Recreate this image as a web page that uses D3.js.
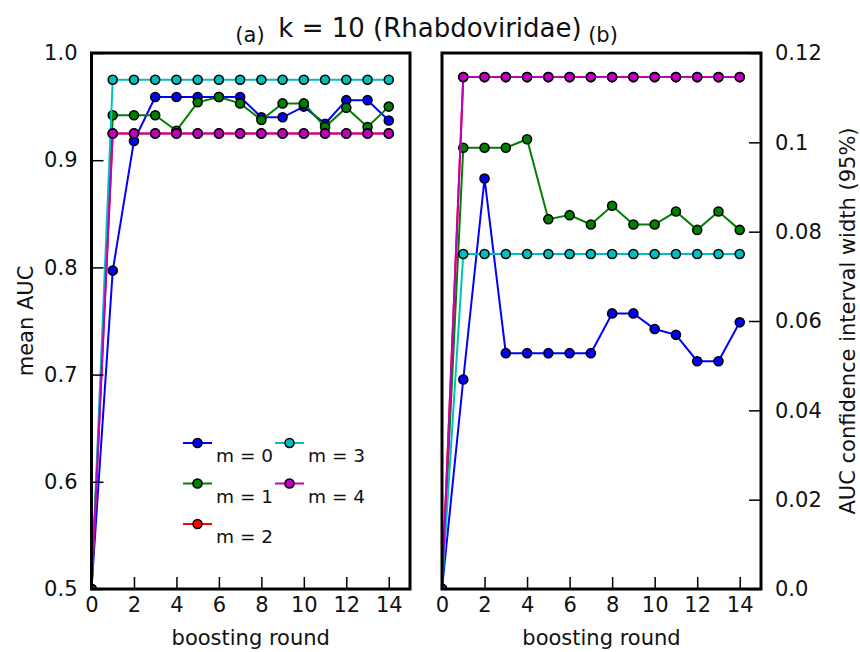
<!DOCTYPE html>
<html>
<head>
<meta charset="utf-8">
<script src="https://cdn.jsdelivr.net/npm/d3@7"></script>
<style>
  html, body { margin: 0; padding: 0; background: #fff; }
  svg { display: block; font-family: "DejaVu Sans", sans-serif; }
</style>
</head>
<body>
<svg id="chart" width="860" height="652"></svg>
<script>
// ---------------- data ----------------
const rounds = [0,1,2,3,4,5,6,7,8,9,10,11,12,13,14];
const seriesNames = ["m = 0", "m = 1", "m = 2", "m = 3", "m = 4"];
const seriesColors = ["#0000ff", "#008000", "#ff0000", "#00bfbf", "#bf00bf"];

// (a) mean AUC
const aucM0 = [0.5, 0.797, 0.918, 0.959, 0.959, 0.959, 0.959, 0.959, 0.940, 0.940, 0.950, 0.934, 0.956, 0.956, 0.937];
const aucM1 = [0.5, 0.942, 0.942, 0.942, 0.9275, 0.954, 0.959, 0.953, 0.9375, 0.953, 0.953, 0.931, 0.949, 0.931, 0.950];
const aucM2 = [0.5, 0.925, 0.925, 0.925, 0.925, 0.925, 0.925, 0.925, 0.925, 0.925, 0.925, 0.925, 0.925, 0.925, 0.925];
const aucM3 = [0.5, 0.975, 0.975, 0.975, 0.975, 0.975, 0.975, 0.975, 0.975, 0.975, 0.975, 0.975, 0.975, 0.975, 0.975];
const aucM4 = [0.5, 0.925, 0.925, 0.925, 0.925, 0.925, 0.925, 0.925, 0.925, 0.925, 0.925, 0.925, 0.925, 0.925, 0.925];

// (b) AUC confidence interval width (95%)
const ciM0 = [0.0, 0.0469, 0.0919, 0.0528, 0.0528, 0.0528, 0.0528, 0.0528, 0.0617, 0.0617, 0.0582, 0.0569, 0.0510, 0.0510, 0.0597];
const ciM1 = [0.0, 0.0988, 0.0988, 0.0988, 0.1007, 0.0828, 0.0837, 0.0816, 0.0858, 0.0816, 0.0816, 0.0845, 0.0804, 0.0845, 0.0804];
const ciM2 = [0.0, 0.1146, 0.1146, 0.1146, 0.1146, 0.1146, 0.1146, 0.1146, 0.1146, 0.1146, 0.1146, 0.1146, 0.1146, 0.1146, 0.1146];
const ciM3 = [0.0, 0.0750, 0.0750, 0.0750, 0.0750, 0.0750, 0.0750, 0.0750, 0.0750, 0.0750, 0.0750, 0.0750, 0.0750, 0.0750, 0.0750];
const ciM4 = [0.0, 0.1146, 0.1146, 0.1146, 0.1146, 0.1146, 0.1146, 0.1146, 0.1146, 0.1146, 0.1146, 0.1146, 0.1146, 0.1146, 0.1146];

const xTicks = [0, 2, 4, 6, 8, 10, 12, 14];
const aucTicks = [0.5, 0.6, 0.7, 0.8, 0.9, 1.0];
const aucTickLabels = ["0.5", "0.6", "0.7", "0.8", "0.9", "1.0"];
const ciTicks = [0.0, 0.02, 0.04, 0.06, 0.08, 0.10, 0.12];
const ciTickLabels = ["0.0", "0.02", "0.04", "0.06", "0.08", "0.1", "0.12"];

const titleText = "k = 10 (Rhabdoviridae)";
const panelLabels = ["(a)", "(b)"];
const xLabel = "boosting round";
const yLabelA = "mean AUC";
const yLabelB = "AUC confidence interval width (95%)";

// ---------------- drawing ----------------
const svg = d3.select("#chart");
const plotTop = 53, plotBottom = 589;

const panels = [
  { id: "a", x0: 91.5, x1: 410, domain: [0.5, 1.0], series: [aucM0, aucM1, aucM2, aucM3, aucM4],
    ticks: aucTicks, labels: aucTickLabels, side: "left" },
  { id: "b", x0: 442, x1: 761, domain: [0, 0.12], series: [ciM0, ciM1, ciM2, ciM3, ciM4],
    ticks: ciTicks, labels: ciTickLabels, side: "right" }
];

const defs = svg.append("defs");

panels.forEach(p => {
  const x = d3.scaleLinear().domain([0, 15]).range([p.x0, p.x1]);
  const y = d3.scaleLinear().domain(p.domain).range([plotBottom, plotTop]);

  defs.append("clipPath").attr("id", "clip-" + p.id)
    .append("rect").attr("x", p.x0).attr("y", plotTop).attr("width", p.x1 - p.x0).attr("height", plotBottom - plotTop);

  const g = svg.append("g").attr("clip-path", "url(#clip-" + p.id + ")");
  const line = d3.line().x((d, i) => x(rounds[i])).y(d => y(d));

  p.series.forEach((vals, si) => {
    const sg = g.append("g");
    sg.append("path").datum(vals)
      .attr("d", line)
      .attr("fill", "none")
      .attr("stroke", seriesColors[si])
      .attr("stroke-width", 2);
    sg.selectAll("circle").data(vals).join("circle")
      .attr("cx", (d, i) => x(rounds[i]))
      .attr("cy", d => y(d))
      .attr("r", 4.5)
      .attr("fill", seriesColors[si])
      .attr("stroke", "#000")
      .attr("stroke-width", 1.6);
  });

  // x axis ticks (inward) and labels
  const xAxis = d3.axisBottom(x).tickValues(xTicks).tickSizeInner(-12).tickSizeOuter(0)
    .tickFormat(d3.format("d"));
  const gx = svg.append("g").attr("transform", `translate(0,${plotBottom})`).call(xAxis);
  gx.select(".domain").remove();
  gx.selectAll(".tick line").attr("stroke", "#000").attr("stroke-width", 1.5);
  gx.selectAll(".tick text").attr("font-size", 21).attr("fill", "#111")
    .attr("font-family", "DejaVu Sans").attr("dy", "0.72em").attr("y", 8);

  // y axis
  const yAxis = (p.side === "left" ? d3.axisLeft(y) : d3.axisRight(y))
    .tickValues(p.ticks).tickSizeInner(-12).tickSizeOuter(0).tickPadding(14)
    .tickFormat((d, i) => p.labels[i]);
  const gy = svg.append("g")
    .attr("transform", `translate(${p.side === "left" ? p.x0 : p.x1},0)`).call(yAxis);
  gy.select(".domain").remove();
  gy.selectAll(".tick line").attr("stroke", "#000").attr("stroke-width", 1.5);
  gy.selectAll(".tick text").attr("font-size", 21).attr("fill", "#111").attr("font-family", "DejaVu Sans");

  // frame
  svg.append("rect").attr("x", p.x0).attr("y", plotTop)
    .attr("width", p.x1 - p.x0).attr("height", plotBottom - plotTop)
    .attr("fill", "none").attr("stroke", "#000").attr("stroke-width", 3);

  // x label
  svg.append("text").attr("x", (p.x0 + p.x1) / 2).attr("y", 645)
    .attr("text-anchor", "middle").attr("font-size", 21).attr("fill", "#111").text(xLabel);
});

// y labels
svg.append("text").attr("transform", "translate(33,321) rotate(-90)")
  .attr("text-anchor", "middle").attr("font-size", 21).attr("fill", "#111").text(yLabelA);
svg.append("text").attr("transform", "translate(855,321) rotate(-90)")
  .attr("text-anchor", "middle").attr("font-size", 21).attr("fill", "#111").text(yLabelB);

// titles
svg.append("text").attr("x", 430).attr("y", 37).attr("text-anchor", "middle")
  .attr("font-size", 26).attr("fill", "#111").text(titleText);
svg.append("text").attr("x", 250).attr("y", 42).attr("text-anchor", "middle")
  .attr("font-size", 21).attr("fill", "#111").text(panelLabels[0]);
svg.append("text").attr("x", 603).attr("y", 42).attr("text-anchor", "middle")
  .attr("font-size", 21).attr("fill", "#111").text(panelLabels[1]);

// legend (in panel a), column-major: 3 rows then 2
const legendCols = [[0, 1, 2], [3, 4]];
const legendColX = [183, 275];
const legendRowY = [443, 483.5, 524];
const lg = svg.append("g");
legendCols.forEach((col, ci) => {
  col.forEach((si, ri) => {
    const x0 = legendColX[ci], yy = legendRowY[ri];
    lg.append("line").attr("x1", x0).attr("x2", x0 + 29).attr("y1", yy).attr("y2", yy)
      .attr("stroke", seriesColors[si]).attr("stroke-width", 2);
    lg.append("circle").attr("cx", x0 + 14.5).attr("cy", yy).attr("r", 4.5)
      .attr("fill", seriesColors[si]).attr("stroke", "#000").attr("stroke-width", 1.6);
    lg.append("text").attr("x", x0 + 33).attr("y", yy + 19)
      .attr("font-size", 18.5).attr("fill", "#111").text(seriesNames[si]);
  });
});
</script>
</body>
</html>
